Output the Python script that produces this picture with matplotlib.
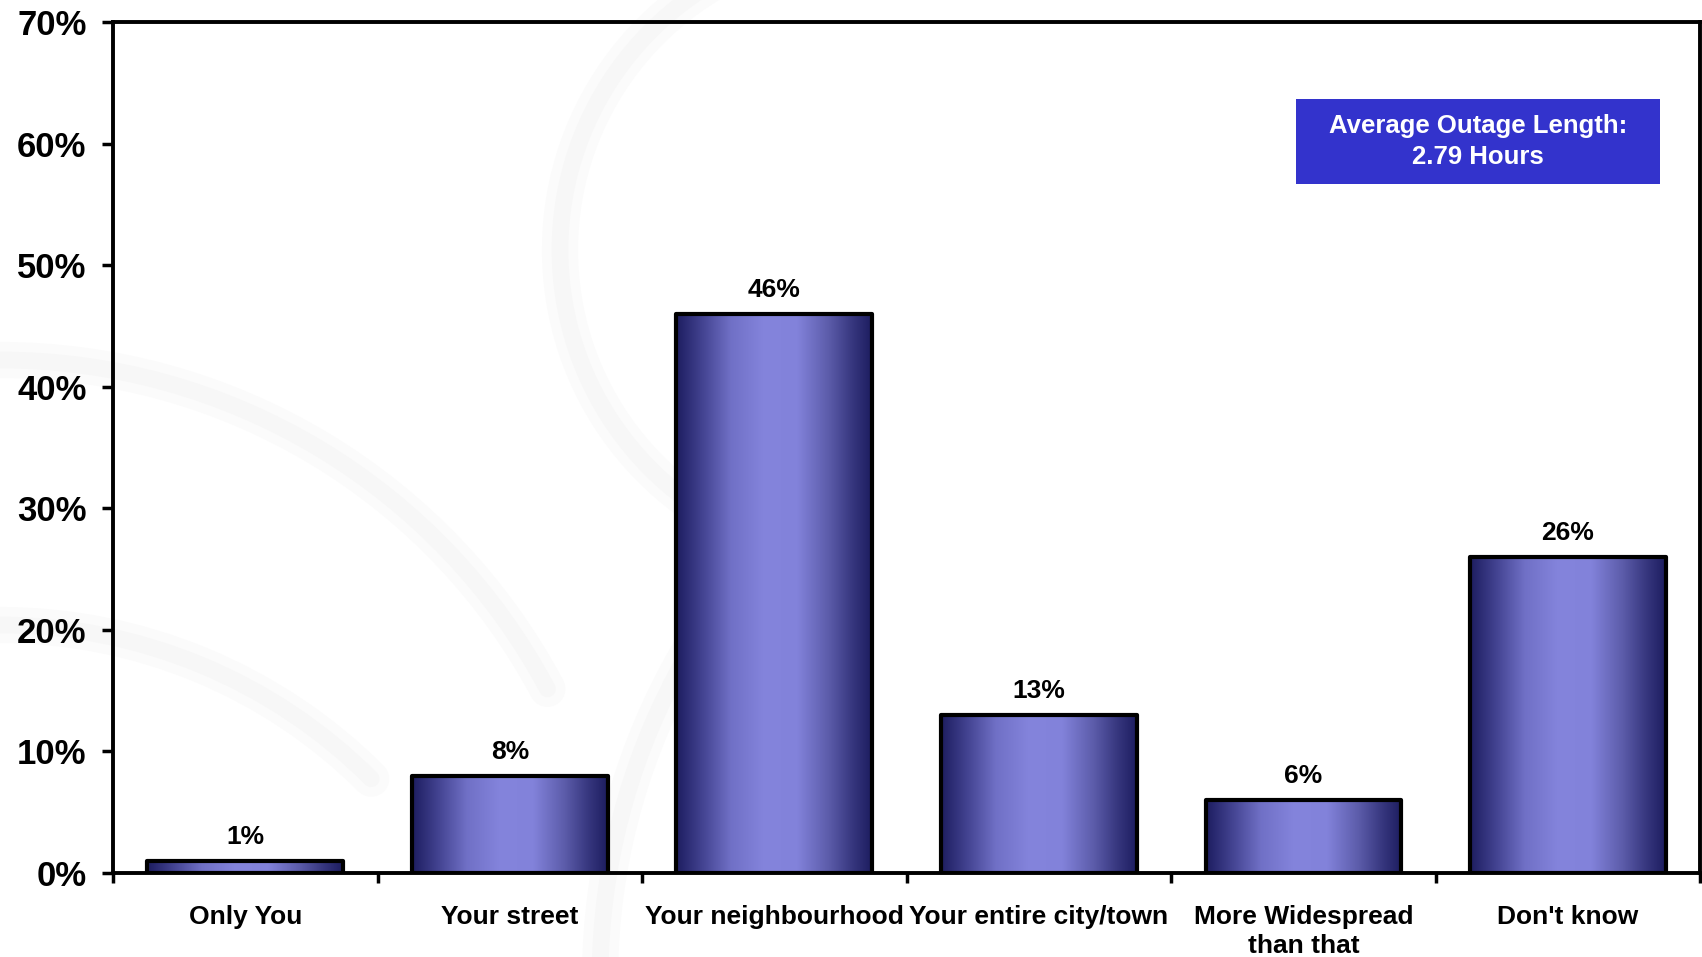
import numpy as np
import matplotlib
matplotlib.use("Agg")
import matplotlib.pyplot as plt
from matplotlib.colors import LinearSegmentedColormap
from matplotlib.patches import Rectangle, Arc

categories = ["Only You", "Your street", "Your neighbourhood", "Your entire city/town",
              "More Widespread\nthan that", "Don't know"]
values = [1, 8, 46, 13, 6, 26]
yticks = [0, 10, 20, 30, 40, 50, 60, 70]
box_text = "Average Outage Length:\n2.79 Hours"

plt.rcParams['font.family'] = ['Liberation Sans', 'DejaVu Sans']

W, H = 1702, 957
fig = plt.figure(figsize=(W / 100, H / 100), dpi=100)
fig.patch.set_facecolor('white')

# very faint decorative swirls in the slide background (pixel coordinates)
bg = fig.add_axes([0, 0, 1, 1], zorder=0)
bg.set_xlim(0, W)
bg.set_ylim(H, 0)
bg.axis('off')
for lw, col in ((26, '#fbfbfb'), (12, '#f7f7f7')):
    swirl = dict(color=col, linewidth=lw, capstyle='round')
    bg.add_patch(Arc((870, 250), 620, 620, theta1=110, theta2=260, **swirl))
    bg.add_patch(Arc((0, 980), 1240, 1240, theta1=-90, theta2=-28, **swirl))
    bg.add_patch(Arc((0, 1150), 1050, 1050, theta1=-90, theta2=-45, **swirl))
    bg.add_patch(Arc((1250, 980), 1300, 1300, theta1=160, theta2=215, **swirl))

ax = fig.add_axes([0.0664, 0.0878, 0.9326, 0.889], zorder=1)
ax.set_facecolor('none')

# horizontal shading across each bar: dark rims, light centre
bar_cmap = LinearSegmentedColormap.from_list(
    "barshade",
    [(0.0, "#1d1d60"), (0.12, "#3f3f8c"), (0.28, "#7070c6"), (0.45, "#8484dc"),
     (0.62, "#8282da"), (0.78, "#5c5caa"), (0.9, "#37377f"), (1.0, "#1d1d60")])
grad = np.linspace(0, 1, 256).reshape(1, -1)

width = 0.74
x = np.arange(len(categories))
for xi, v in zip(x, values):
    x0, x1 = xi - width / 2, xi + width / 2
    ax.imshow(grad, cmap=bar_cmap, extent=(x0, x1, 0, v), aspect='auto',
              interpolation='bilinear', zorder=2)
    ax.add_patch(Rectangle((x0, 0), width, v, facecolor='none', edgecolor='black',
                           linewidth=3, zorder=3, joinstyle='round'))
    ax.text(xi, v + 1.0, f"{v}%", ha='center', va='bottom', fontsize=19,
            fontweight='bold', color='black', zorder=4)

ax.set_xlim(-0.5, len(categories) - 0.5)
ax.set_ylim(0, 70)

ax.set_yticks(yticks)
ax.set_yticklabels([f"{t}%" for t in yticks], fontsize=25, fontweight='bold')
ax.tick_params(axis='y', direction='out', length=8, width=2.5, pad=11)

ax.set_xticks(x)
ax.set_xticklabels(categories, fontsize=19, fontweight='bold', linespacing=1.25)
ax.tick_params(axis='x', which='major', length=0, pad=23)
ax.set_xticks(np.arange(len(categories) + 1) - 0.5, minor=True)
ax.tick_params(axis='x', which='minor', direction='out', length=7, width=2.5)

for s in ax.spines.values():
    s.set_linewidth(2.8)
    s.set_color('black')

# summary box
bx0, by0, bx1, by1 = 1296, 99, 1660, 184
fig.patches.append(Rectangle((bx0 / W, 1 - by1 / H), (bx1 - bx0) / W, (by1 - by0) / H,
                             transform=fig.transFigure, facecolor='#3333cc',
                             edgecolor='none', zorder=2))
fig.text((bx0 + bx1) / 2 / W, 1 - (by0 + by1) / 2 / H, box_text, ha='center',
         va='center', fontsize=18.5, fontweight='bold', color='white',
         linespacing=1.35, zorder=3)

fig.savefig("out.png", dpi=100)
